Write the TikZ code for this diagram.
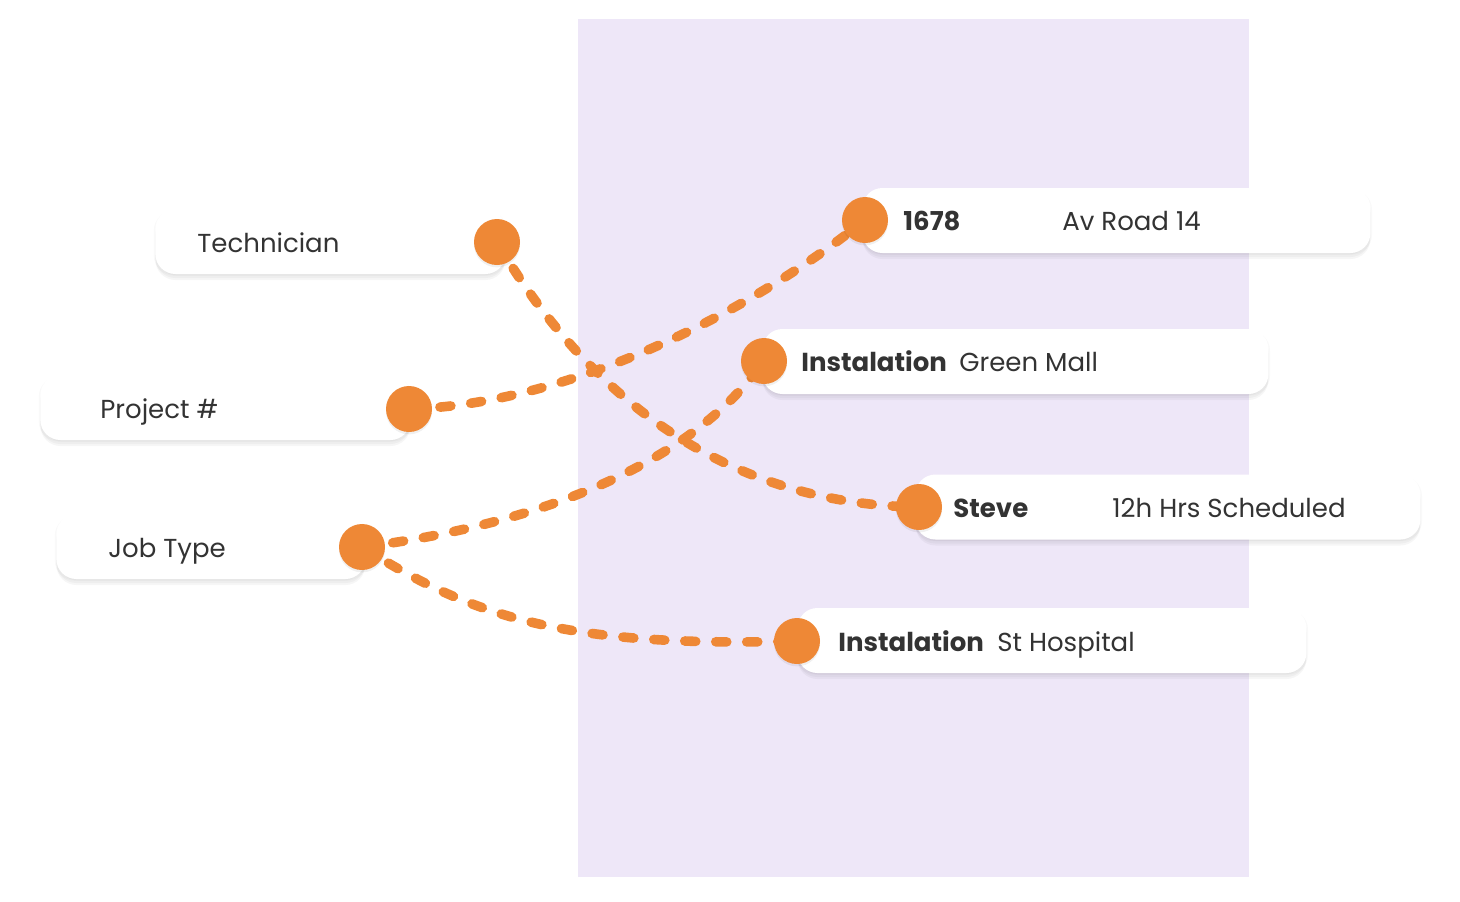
\documentclass[tikz,border=0pt]{standalone}
\usepackage{fontspec}
\setmainfont{Poppins}
\definecolor{bgpurple}{RGB}{238,231,248}
\definecolor{dotorange}{RGB}{238,136,54}
\definecolor{txtgray}{RGB}{51,51,51}
\begin{document}
\begin{tikzpicture}[x=0.5pt,y=-0.5pt,
  card/.style={draw=none, fill=white, rounded corners=10pt, inner sep=0pt,
    minimum height=32.5pt, anchor=west,
    preaction={fill=black, fill opacity=0.03, transform canvas={yshift=-2pt}},
    preaction={fill=black, fill opacity=0.025, transform canvas={yshift=-0.8pt, xshift=0.8pt}},
    preaction={fill=black, fill opacity=0.025, transform canvas={yshift=-0.8pt, xshift=-0.8pt}},
    preaction={fill=black, fill opacity=0.035, transform canvas={yshift=-3pt}}},
  dot/.style={circle, fill=dotorange, draw=none, minimum size=23pt, inner sep=0pt,
    preaction={fill=black, fill opacity=0.06, transform canvas={yshift=-1.2pt}}},
  conn/.style={draw=dotorange, line width=4.8pt, line cap=round, dash pattern=on 5.5pt off 10pt},
  lbl/.style={anchor=base west, inner sep=0pt, text=txtgray, font=\fontsize{13pt}{16pt}\selectfont},
  blbl/.style={lbl, font=\fontsize{13pt}{16pt}\selectfont\bfseries}]
\useasboundingbox (0,0) rectangle (1460,901);
\fill[bgpurple] (578,19) rectangle (1249,877);
% cards
\node[card, minimum width=175pt] (ctech) at (155,241.5) {};
\node[card, minimum width=185pt] (cproj) at (40,407.5) {};
\node[card, minimum width=154.5pt] (cjob) at (56,546.5) {};
\node[card, minimum width=254pt] (caddr) at (862,220.5) {};
\node[card, minimum width=253pt] (cmall) at (762,361.5) {};
\node[card, minimum width=252.5pt] (csteve) at (915,507) {};
\node[card, minimum width=254.5pt] (chosp) at (797,640.5) {};
% dot centres
\coordinate (ptech) at (497,242);
\coordinate (pproj) at (409,409);
\coordinate (pjob) at (362,547);
\coordinate (paddr) at (865,220);
\coordinate (pmall) at (764,361);
\coordinate (psteve) at (919,507);
\coordinate (phosp) at (797,641);
% connectors
\draw[conn] (ptech) .. controls (595,410) and (740,505) .. (psteve);
\draw[conn] (pproj) .. controls (560,405) and (740,320) .. (paddr);
\draw[conn] (pjob) .. controls (500,530) and (680,480) .. (pmall);
\draw[conn] (pjob) .. controls (470,615) and (560,648) .. (phosp);
% dots
\node[dot] (dtech) at (ptech) {};
\node[dot] (dproj) at (pproj) {};
\node[dot] (djob) at (pjob) {};
\node[dot] (daddr) at (paddr) {};
\node[dot] (dmall) at (pmall) {};
\node[dot] (dsteve) at (psteve) {};
\node[dot] (dhosp) at (phosp) {};
% labels
\node[lbl] (ttech) at (197,252) {Technician};
\node[lbl] (tproj) at (100,418) {Project \#};
\node[lbl] (tjob) at (108,557) {Job Type};
\node[blbl] (tnum) at (903,230) {1678};
\node[lbl] (taddr) at (1062,230) {Av Road 14};
\node[blbl] (tinst1) at (801,371) {Instalation};
\node[lbl] (tmall) at (959,371) {Green Mall};
\node[blbl] (tsteve) at (953,517) {Steve};
\node[lbl] (thrs) at (1112,517) {12h Hrs Scheduled};
\node[blbl] (tinst2) at (838,651) {Instalation};
\node[lbl] (thosp) at (997,651) {St Hospital};
\end{tikzpicture}
\end{document}
